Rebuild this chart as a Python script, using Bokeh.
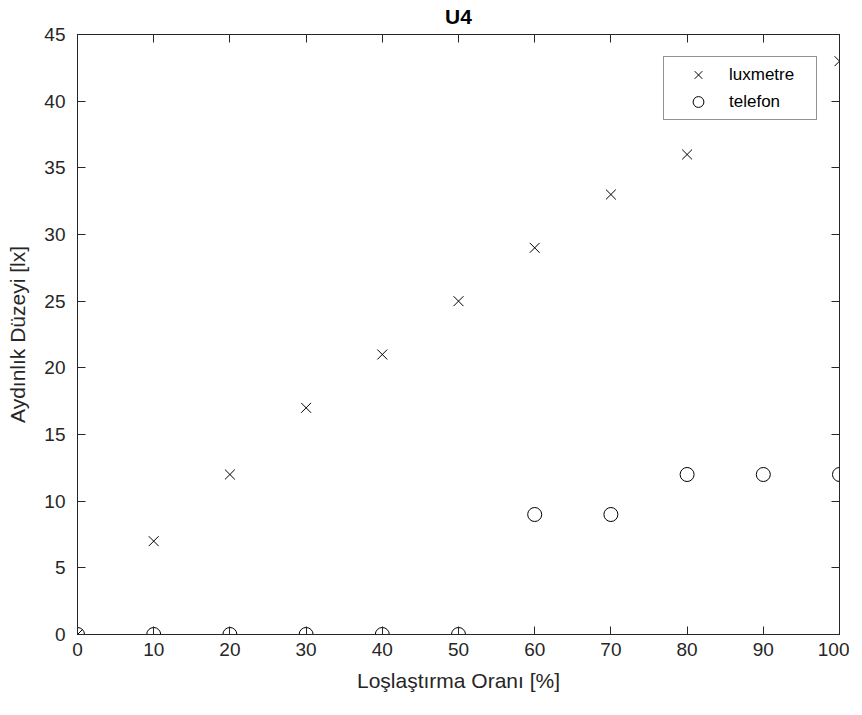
from bokeh.plotting import figure
from bokeh.models import LinearAxis, Range1d, FixedTicker, Legend, LegendItem
from bokeh.embed import file_html
from bokeh.resources import INLINE

lux_x = [0, 10, 20, 30, 40, 50, 60, 70, 80, 100]
lux_y = [0, 7, 12, 17, 21, 25, 29, 33, 36, 43]
tel_x = [0, 10, 20, 30, 40, 50, 60, 70, 80, 90, 100]
tel_y = [0, 0, 0, 0, 0, 0, 9, 9, 12, 12, 12]
x_ticks = [0, 10, 20, 30, 40, 50, 60, 70, 80, 90, 100]
y_ticks = [0, 5, 10, 15, 20, 25, 30, 35, 40, 45]

AX = "#262626"
FONT = "Liberation Sans"

p = figure(output_backend="svg", toolbar_location=None,
           frame_width=762, frame_height=600,
           x_range=Range1d(0, 100), y_range=Range1d(0, 45),
           min_border_left=77, min_border_top=40, min_border_right=10, min_border_bottom=5,
           title="U4")
p.styles = {"margin-top": "-6px"}
p.title.align = "center"
p.title.text_font = FONT
p.title.text_font_size = "21px"
p.title.text_font_style = "bold"
p.title.text_color = "#000000"
p.title.offset = 0
p.title.standoff = 14

p.xgrid.visible = False
p.ygrid.visible = False
p.outline_line_color = AX
p.outline_line_width = 1

def style(ax, labels=True):
    ax.axis_line_color = AX
    ax.major_tick_line_color = AX
    ax.major_tick_in = 8
    ax.major_tick_out = 0
    ax.minor_tick_line_color = None
    ax.major_label_text_font = FONT
    ax.major_label_text_font_size = "19px"
    ax.major_label_text_color = AX
    ax.axis_label_text_font = FONT
    ax.axis_label_text_font_size = "21px"
    ax.axis_label_text_color = AX
    ax.axis_label_text_font_style = "normal"
    if not labels:
        ax.major_label_text_color = None
        ax.major_label_text_font_size = "1px"
        ax.major_label_standoff = 0

p.xaxis.ticker = FixedTicker(ticks=x_ticks)
p.yaxis.ticker = FixedTicker(ticks=y_ticks)
p.xaxis.axis_label = "Loşlaştırma Oranı [%]"
p.yaxis.axis_label = "Aydınlık Düzeyi [lx]"
style(p.xaxis[0])
style(p.yaxis[0])
p.xaxis.major_label_standoff = 8
p.yaxis.major_label_standoff = 12
p.xaxis.axis_label_standoff = 10
p.yaxis.axis_label_standoff = 12

ra = LinearAxis(ticker=FixedTicker(ticks=y_ticks))
style(ra, labels=False)
p.add_layout(ra, "right")
ta = LinearAxis(ticker=FixedTicker(ticks=x_ticks))
style(ta, labels=False)
p.add_layout(ta, "above")

r1 = p.scatter(lux_x, lux_y, marker="x", size=14, line_color="#000000", line_width=1)
r2 = p.scatter(tel_x, tel_y, marker="circle", size=14, fill_color=None, line_color="#000000", line_width=1)

leg = Legend(items=[LegendItem(label="luxmetre", renderers=[r1]),
                    LegendItem(label="telefon", renderers=[r2])],
             location=(586, 514))
leg.label_text_font = FONT
leg.label_text_font_size = "17px"
leg.label_text_color = "#000000"
leg.border_line_color = AX
leg.border_line_width = 1
leg.glyph_width = 60
leg.glyph_height = 27
leg.label_height = 27
leg.label_width = 83
leg.label_standoff = 1
leg.padding = 4
leg.spacing = 0
leg.margin = 0
leg.background_fill_alpha = 1
p.add_layout(leg, "center")

open("out.html", "w").write(file_html(p, INLINE))
